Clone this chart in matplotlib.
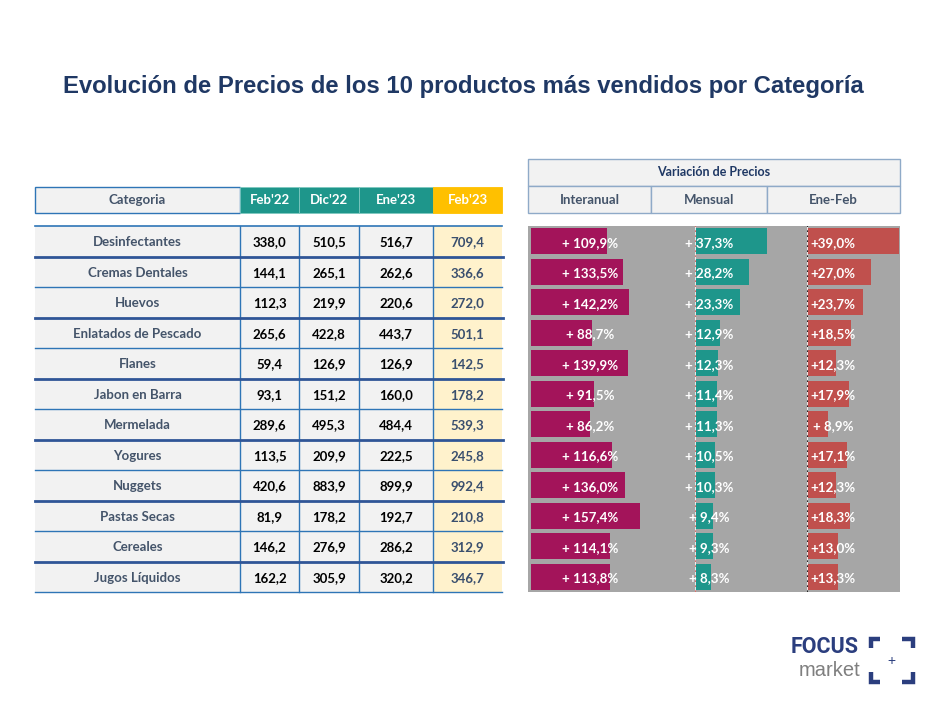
import matplotlib
matplotlib.use("Agg")
import matplotlib.pyplot as plt
from matplotlib.patches import Rectangle

# ---------------- data ----------------
categories = ["Desinfectantes", "Cremas Dentales", "Huevos", "Enlatados de Pescado",
              "Flanes", "Jabon en Barra", "Mermelada", "Yogures", "Nuggets",
              "Pastas Secas", "Cereales", "Jugos Líquidos"]
col_labels = ["Feb'22", "Dic'22", "Ene'23", "Feb'23"]
feb22 = [338.0, 144.1, 112.3, 265.6, 59.4, 93.1, 289.6, 113.5, 420.6, 81.9, 146.2, 162.2]
dic22 = [510.5, 265.1, 219.9, 422.8, 126.9, 151.2, 495.3, 209.9, 883.9, 178.2, 276.9, 305.9]
ene23 = [516.7, 262.6, 220.6, 443.7, 126.9, 160.0, 484.4, 222.5, 899.9, 192.7, 286.2, 320.2]
feb23 = [709.4, 336.6, 272.0, 501.1, 142.5, 178.2, 539.3, 245.8, 992.4, 210.8, 312.9, 346.7]
var_labels = ["Interanual", "Mensual", "Ene-Feb"]
interanual = [109.9, 133.5, 142.2, 88.7, 139.9, 91.5, 86.2, 116.6, 136.0, 157.4, 114.1, 113.8]
mensual = [37.3, 28.2, 23.3, 12.9, 12.3, 11.4, 11.3, 10.5, 10.3, 9.4, 9.3, 8.3]
ene_feb = [39.0, 27.0, 23.7, 18.5, 12.3, 17.9, 8.9, 17.1, 12.3, 18.3, 13.0, 13.3]

# ---------------- style ----------------
W, H = 939, 701
FONT = ["Lato", "DejaVu Sans"]
NAVY = "#1F3864"
SLATE = "#44546A"
TEAL = "#1E968B"
AMBER = "#FFC000"
LIGHT = "#F2F2F2"
LYEL = "#FFF2CC"
BLUE = "#2E75B6"
DBLUE = "#2F5597"
MAG = "#A3145A"
RED = "#C0504D"
GRAY = "#A6A6A6"

fig = plt.figure(figsize=(W / 100, H / 100), dpi=100)
fig.patch.set_facecolor("white")
bg = fig.add_axes([0, 0, 1, 1])
bg.set_xlim(0, W)
bg.set_ylim(H, 0)
bg.axis("off")


def rect(ax, x0, y0, x1, y1, fc, ec="none", lw=0, z=1):
    ax.add_patch(Rectangle((x0, y0), x1 - x0, y1 - y0, facecolor=fc,
                           edgecolor=ec, linewidth=lw, zorder=z))


def txt(ax, x, y, s, size=9.5, color="black", weight="bold", ha="center", family=FONT):
    ax.text(x, y, s, fontsize=size, color=color, fontweight=weight, ha=ha,
            va="center", family=family, zorder=10)


def pct(v, sep=" "):
    s = f"{v:.1f}".replace(".", ",")
    return "+" + sep + s + "%"


# title
bg.text(463.5, 86, "Evolución de Precios de los 10 productos más vendidos por Categoría",
        fontsize=17.2, color=NAVY, fontweight="bold", ha="center", va="center",
        family=["Liberation Sans", "DejaVu Sans"])

# ---------------- left table ----------------
col_edges = [240, 299, 359, 433, 502]
cat_x0 = 35
hy0, hy1 = 187, 213
rect(bg, cat_x0, hy0, col_edges[0], hy1, LIGHT, BLUE, 1.0)
txt(bg, (cat_x0 + col_edges[0]) / 2, (hy0 + hy1) / 2, "Categoria", color=SLATE)
for j, lab in enumerate(col_labels):
    fc = AMBER if j == 3 else TEAL
    rect(bg, col_edges[j], hy0, col_edges[j + 1], hy1, fc, "#7FC8C0" if j < 3 else AMBER, 0.6)
    txt(bg, (col_edges[j] + col_edges[j + 1]) / 2, (hy0 + hy1) / 2, lab, color="white")

y0, y1 = 226, 592
n = len(categories)
rowh = (y1 - y0) / n
rect(bg, cat_x0, y0, col_edges[3], y1, LIGHT)
rect(bg, col_edges[3], y0, col_edges[4], y1, LYEL)
for xe in col_edges[:4]:
    bg.plot([xe, xe], [y0, y1], color=BLUE, lw=1.0, zorder=3)
bg.plot([cat_x0, col_edges[4]], [y0, y0], color=BLUE, lw=1.2, zorder=3)
table_cols = [feb22, dic22, ene23, feb23]
for i, cat in enumerate(categories):
    cy = y0 + rowh * (i + 0.5)
    txt(bg, (cat_x0 + col_edges[0]) / 2, cy + 1, cat, color=SLATE)
    for j, vals in enumerate(table_cols):
        s = f"{vals[i]:.1f}".replace(".", ",")
        txt(bg, (col_edges[j] + col_edges[j + 1]) / 2, cy + 1, s,
            color=("#3A4F6E" if j == 3 else "black"))
    yb = y0 + rowh * (i + 1)
    if i % 2 == 0:
        bg.plot([cat_x0, col_edges[4] + 1], [yb, yb], color=DBLUE, lw=2.0, zorder=4)
    else:
        bg.plot([cat_x0, col_edges[4]], [yb, yb], color=BLUE, lw=1.0, zorder=4)

# ---------------- right header ----------------
rx0, rx1 = 528, 900
rect(bg, rx0, 159, rx1, 186, LIGHT, "#8FAAC8", 1.0)
txt(bg, (rx0 + rx1) / 2, 172.5, "Variación de Precios", color=NAVY, size=9)
sep = [rx0, 651, 767, rx1]
for j, lab in enumerate(var_labels):
    rect(bg, sep[j], 186, sep[j + 1], 213, LIGHT, "#8FAAC8", 1.0)
    txt(bg, (sep[j] + sep[j + 1]) / 2, 200, lab, color=SLATE)

# gray background for the bars
rect(bg, rx0, y0, rx1, y1, GRAY, z=0.5)

# ---------------- bar panels ----------------
def panel(px0, px1, scale):
    ax = fig.add_axes([px0 / W, (H - y1) / H, (px1 - px0) / W, (y1 - y0) / H])
    ax.set_xlim(0, (px1 - px0) / scale)
    ax.set_ylim(n - 0.5, -0.5)
    ax.axis("off")
    ax.patch.set_alpha(0)
    return ax


ypos = list(range(n))
ax1 = panel(530.5, 694, 0.695)
ax1.barh(ypos, interanual, height=0.84, color=MAG)
ax2 = panel(694.5, 807, 1.95)
ax2.barh(ypos, mensual, height=0.84, color=TEAL)
ax2.axvline(0, color="white", lw=1.2)
ax2.axvline(0, color="#D9534F", lw=1.2, ls=(0, (1, 2)))
ax3 = panel(807, 900, 2.36)
ax3.barh(ypos, ene_feb, height=0.84, color=RED)
ax3.axvline(0, color="white", lw=1.2)
ax3.axvline(0, color="black", lw=1.2, ls=(0, (1, 2)))

# ---------------- overlay: bar labels and logo ----------------
top = fig.add_axes([0, 0, 1, 1])
top.set_xlim(0, W)
top.set_ylim(H, 0)
top.axis("off")
top.patch.set_alpha(0)

for i in range(n):
    cy = y0 + rowh * (i + 0.5) + 1.5
    txt(top, 590, cy, pct(interanual[i]), color="white", size=9.6)
    txt(top, 709, cy, pct(mensual[i]), color="white", size=9.6)
    txt(top, 833, cy, pct(ene_feb[i], "" if ene_feb[i] >= 10 else " "), color="white", size=9.6)

LOGO = "#2B3E7E"
top.text(859, 647, "FOCUS", fontsize=15.5, color=LOGO, fontweight="bold", ha="right",
         va="center", family=["Roboto", "DejaVu Sans"])
top.text(860, 671, "market", fontsize=14.5, color="#7F7F7F", fontweight="normal", ha="right",
         va="center", family=["Liberation Sans", "DejaVu Sans"])
lk = dict(color=LOGO, lw=3.2, solid_capstyle="butt", solid_joinstyle="miter")
top.plot([880, 871, 871], [638.5, 638.5, 648], **lk)
top.plot([902, 913, 913], [638.5, 638.5, 648], **lk)
top.plot([871, 871, 880], [672, 681.5, 681.5], **lk)
top.plot([913, 913, 902], [672, 681.5, 681.5], **lk)
top.text(891, 661, "+", fontsize=10, color=LOGO, ha="center", va="center",
         family=["Liberation Sans", "DejaVu Sans"])

fig.savefig("out.png", dpi=100)
